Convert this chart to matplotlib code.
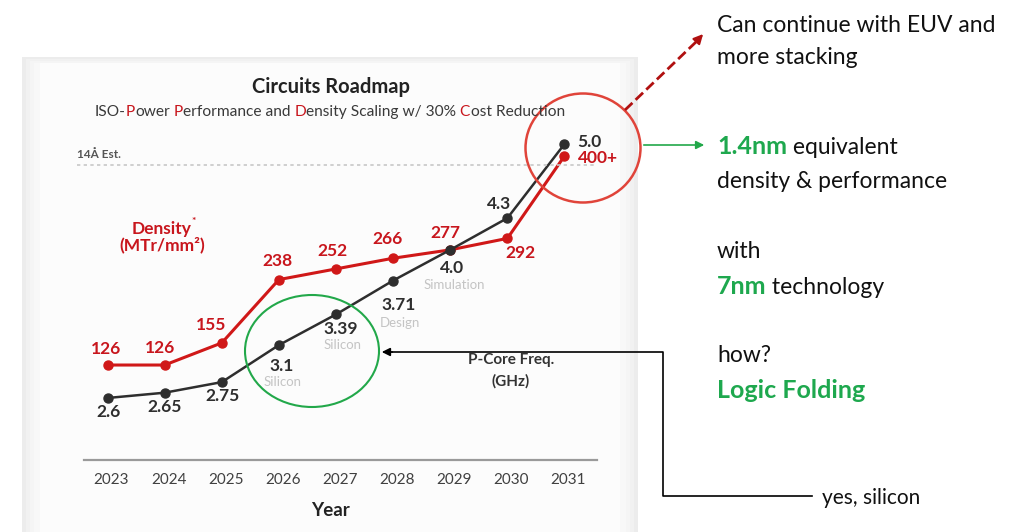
import matplotlib.pyplot as plt
import matplotlib.transforms as mtransforms
from matplotlib.patches import Ellipse, Rectangle

plt.rcParams['font.family'] = ['Lato', 'DejaVu Sans']

years = [2023, 2024, 2025, 2026, 2027, 2028, 2029, 2030, 2031]
density = [126, 126, 155, 238, 252, 266, 277, 292, 400]
density_labels = ['126', '126', '155', '238', '252', '266', '277', '292', '400+']
freq = [2.6, 2.65, 2.75, 3.1, 3.39, 3.71, 4.0, 4.3, 5.0]
freq_labels = ['2.6', '2.65', '2.75', '3.1', '3.39', '3.71', '4.0', '4.3', '5.0']
stage = ['', '', '', 'Silicon', 'Silicon', 'Design', 'Simulation', '', '']

# label offsets in pixels (dx, dy with y pointing down, like the picture)
dens_off = [(-2, -16), (-5, -17), (-11, -18), (-1, -19), (-4, -18), (-6, -19), (-5, -17), (13, 15), (13, 2)]
freq_off = [(1, 14), (0, 14), (1, 14), (3, 21), (5, 15), (6, 24), (2, 18), (-8, -14), (13, -2)]
stage_off = [(0, 0), (0, 0), (0, 0), (4, 37), (7, 31), (7, 42), (4, 35), (0, 0), (0, 0)]

RED = '#c8161d'
LINE_RED = '#d01818'
DARK = '#2e2e2e'
GREEN = '#1ea84e'

W, H = 1010, 532
fig = plt.figure(figsize=(W / 100, H / 100), dpi=100)
fig.patch.set_facecolor('white')


def px_box(l, t, r, b):
    return [l / W, 1 - b / H, (r - l) / W, (b - t) / H]


def overlay(z):
    a = fig.add_axes([0, 0, 1, 1], zorder=z)
    a.set_xlim(0, W)
    a.set_ylim(H, 0)
    a.axis('off')
    a.patch.set_alpha(0)
    return a


# panel behind the chart
bg = overlay(0)
for i, c in enumerate(['#ececec', '#f1f1f1', '#f5f5f5', '#f8f8f8']):
    bg.add_patch(Rectangle((22 + 4 * i, 57 + 2 * i), 616 - 8 * i, 490, facecolor=c, edgecolor='none'))
bg.add_patch(Rectangle((40, 63), 580, 480, facecolor='#fcfcfc', edgecolor='none'))

# the chart itself
ax = fig.add_axes(px_box(84, 120, 597, 460), zorder=1)
ax.patch.set_alpha(0)
ax.set_xlim(2022.588, 2031.569)
ax.set_ylim(1.5, 447.2)
ax2 = ax.twinx()
ax2.set_ylim(2.014, 5.227)
for s in ['top', 'left', 'right']:
    ax.spines[s].set_visible(False)
for s in ax2.spines:
    ax2.spines[s].set_visible(False)
ax.spines['bottom'].set_color('#9a9a9a')
ax.spines['bottom'].set_linewidth(1.6)
ax.set_yticks([])
ax2.set_yticks([])
ax.set_xticks(years)
ax.set_xticklabels([str(y) for y in years], fontsize=11, color='#404040')
ax.tick_params(axis='x', length=0, pad=9)
shift = mtransforms.ScaledTranslation(4 / 100, 0, fig.dpi_scale_trans)
for lab in ax.get_xticklabels():
    lab.set_transform(lab.get_transform() + shift)
ax.set_xlabel('Year', fontsize=13.5, fontweight='bold', color='#222222', labelpad=9)
ax.xaxis.set_label_coords(0.481, -0.125)

ax.plot(years, density, color=LINE_RED, lw=2.2, marker='o', ms=6.5, clip_on=False)
ax2.plot(years, freq, color=DARK, lw=1.8, marker='o', ms=6.5, clip_on=False)

for x, v, lab, (dx, dy) in zip(years, density, density_labels, dens_off):
    ha = 'left' if lab.endswith('+') else 'center'
    ax.annotate(lab, (x, v), xytext=(dx, -dy), textcoords='offset pixels',
                ha=ha, va='center', fontsize=12.5, fontweight='bold', color=RED)
for i, (x, v, lab, (dx, dy)) in enumerate(zip(years, freq, freq_labels, freq_off)):
    ha = 'left' if i == len(years) - 1 else 'center'
    ax2.annotate(lab, (x, v), xytext=(dx, -dy), textcoords='offset pixels',
                 ha=ha, va='center', fontsize=12.5, fontweight='bold', color=DARK)
    if stage[i]:
        sx, sy = stage_off[i]
        ax2.annotate(stage[i], (x, v), xytext=(sx, -sy), textcoords='offset pixels',
                     ha='center', va='center', fontsize=9.5, color='#c4c4c4')

# texts, circles and arrows on top
fg = overlay(5)


def chain(x, y, parts, **kw):
    t = fg.text(x, y, parts[0][0], color=parts[0][1], fontweight=parts[0][2],
                fontsize=parts[0][3], ha='left', va='center', **kw)
    for s, c, w, f in parts[1:]:
        t = fg.annotate(s, xy=(1, 0), xycoords=t, ha='left', va='bottom',
                        color=c, fontweight=w, fontsize=f, **kw)
    return t


fg.text(331, 87, 'Circuits Roadmap', ha='center', va='center', fontsize=14.5,
        fontweight='bold', color='#222222')
sub = '#3a3a3a'
sf = 11.2
chain(95, 112, [('ISO-', sub, 'normal', sf), ('P', RED, 'normal', sf), ('ower', sub, 'normal', sf),
                (' P', RED, 'normal', sf), ('erformance and', sub, 'normal', sf), (' D', RED, 'normal', sf),
                ('ensity Scaling w/ 30%', sub, 'normal', sf), (' C', RED, 'normal', sf),
                ('ost Reduction', sub, 'normal', sf)])

fg.text(77, 155, '14Å Est.', fontsize=8.5, fontweight='bold', color='#555555', va='center')
fg.plot([77, 597], [165, 165], ls=(0, (2, 2)), color='#c8c8c8', lw=1.2)

fg.text(162, 229, 'Density', ha='center', va='center', fontsize=12.5, fontweight='bold', color=RED)
fg.text(192, 221, '*', ha='left', va='center', fontsize=7.5, fontweight='bold', color=RED)
fg.text(162, 245, '(MTr/mm²)', ha='center', va='center', fontsize=12.5, fontweight='bold', color=RED)

fg.text(511, 360, 'P-Core Freq.', ha='center', va='center', fontsize=11, fontweight='bold', color='#333333')
fg.text(511, 381, '(GHz)', ha='center', va='center', fontsize=11, fontweight='bold', color='#333333')

fg.add_patch(Ellipse((583, 148), 115, 109, fill=False, ec='#e0443a', lw=1.8))
fg.add_patch(Ellipse((312, 351), 134, 112, fill=False, ec='#22a84a', lw=1.5))

# dashed arrow to the EUV note
fg.plot([625, 697], [110, 41], ls='--', color='#b01010', lw=2)
fg.annotate('', xy=(705, 32), xytext=(695, 43),
            arrowprops=dict(arrowstyle='-|>', color='#b01010', lw=1.5, mutation_scale=14))
# green arrow to the 1.4nm note
fg.annotate('', xy=(707, 145), xytext=(641, 145),
            arrowprops=dict(arrowstyle='-|>', color='#22a84a', lw=1.2, mutation_scale=12))
# connector from "yes, silicon" to the green circle
fg.plot([812, 663, 663, 392], [496, 496, 352, 352], color='black', lw=1.2)
fg.annotate('', xy=(379, 352), xytext=(395, 352),
            arrowprops=dict(arrowstyle='-|>', color='black', lw=1.2, mutation_scale=12))

TXT = '#111111'
fs = 16.5
fb = 18
fg.text(717, 25, 'Can continue with EUV and', fontsize=fs, color=TXT, va='center')
fg.text(717, 57, 'more stacking', fontsize=fs, color=TXT, va='center')
chain(717, 147, [('1.4nm', GREEN, 'bold', fb), (' equivalent', TXT, 'normal', fs)])
fg.text(717, 182, 'density & performance', fontsize=fs, color=TXT, va='center')
fg.text(717, 251, 'with', fontsize=fs, color=TXT, va='center')
chain(717, 286, [('7nm', GREEN, 'bold', fb), (' technology', TXT, 'normal', fs)])
fg.text(717, 355, 'how?', fontsize=fs, color=TXT, va='center')
fg.text(717, 390, 'Logic Folding', fontsize=fb, color=GREEN, fontweight='bold', va='center')
fg.text(822, 498, 'yes, silicon', fontsize=15, color=TXT, va='center')

fig.savefig('out.png', dpi=100)
